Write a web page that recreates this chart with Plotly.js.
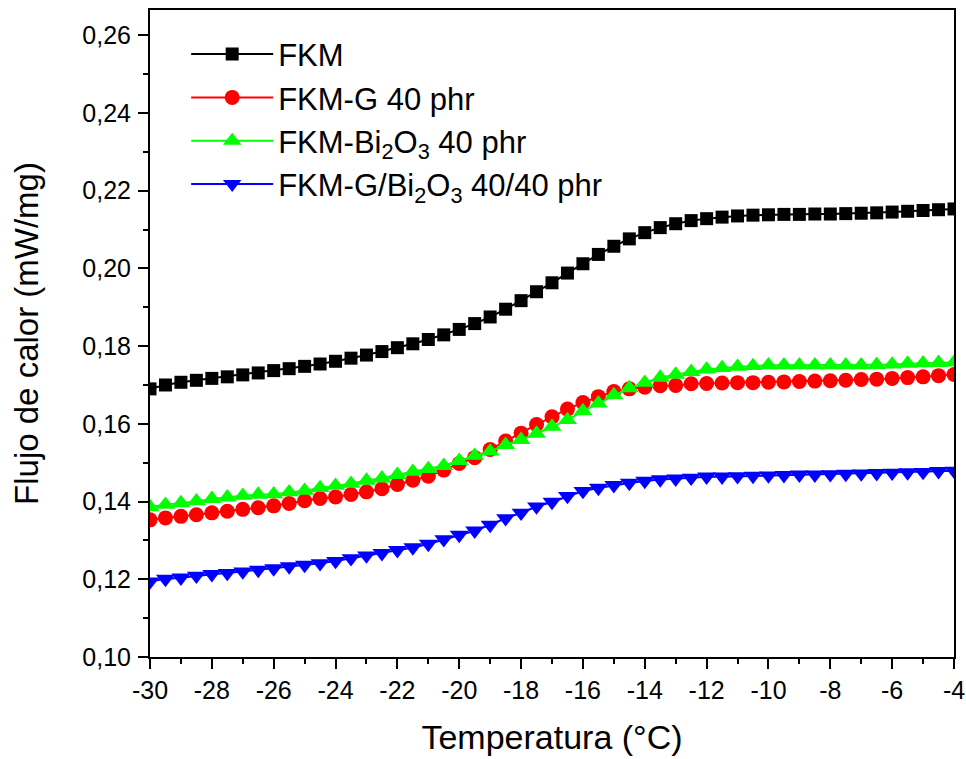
<!DOCTYPE html>
<html>
<head>
<meta charset="utf-8">
<script src="https://cdn.plot.ly/plotly-3.0.1.min.js"></script>
<style>html,body{margin:0;padding:0;background:#fff;}#chart{width:966px;height:759px;}</style>
</head>
<body>
<div id="chart"></div>
<script>
const temperature = [-30,-29.5,-29,-28.5,-28,-27.5,-27,-26.5,-26,-25.5,-25,-24.5,-24,-23.5,-23,-22.5,-22,-21.5,-21,-20.5,-20,-19.5,-19,-18.5,-18,-17.5,-17,-16.5,-16,-15.5,-15,-14.5,-14,-13.5,-13,-12.5,-12,-11.5,-11,-10.5,-10,-9.5,-9,-8.5,-8,-7.5,-7,-6.5,-6,-5.5,-5,-4.5,-4];

const fkm = [0.1690,0.1700,0.1707,0.1712,0.1717,0.1721,0.1726,0.1731,0.1737,0.1742,0.1748,0.1754,0.1761,0.1769,0.1777,0.1786,0.1796,0.1806,0.1817,0.1829,0.1843,0.1858,0.1875,0.1895,0.1917,0.1940,0.1963,0.1988,0.2012,0.2036,0.2057,0.2076,0.2092,0.2105,0.2115,0.2123,0.2128,0.2132,0.2135,0.2137,0.2138,0.2139,0.2139,0.2140,0.2140,0.2141,0.2142,0.2143,0.2145,0.2147,0.2149,0.2151,0.2153];

const fkmG = [0.1353,0.1358,0.1362,0.1366,0.1371,0.1375,0.1380,0.1384,0.1389,0.1395,0.1402,0.1408,0.1412,0.1418,0.1425,0.1433,0.1444,0.1455,0.1465,0.1481,0.1498,0.1513,0.1534,0.1556,0.1576,0.1598,0.1618,0.1638,0.1655,0.1670,0.1683,0.1690,0.1694,0.1698,0.1699,0.1703,0.1704,0.1705,0.1706,0.1706,0.1707,0.1708,0.1709,0.1710,0.1711,0.1712,0.1714,0.1715,0.1717,0.1719,0.1721,0.1724,0.1727];

const fkmBi = [0.1386,0.1392,0.1396,0.1401,0.1407,0.1411,0.1415,0.1418,0.1419,0.1424,0.1428,0.1435,0.1441,0.1446,0.1454,0.1460,0.1469,0.1477,0.1484,0.1492,0.1505,0.1518,0.1529,0.1546,0.1559,0.1575,0.1593,0.1610,0.1633,0.1653,0.1674,0.1692,0.1706,0.1719,0.1727,0.1734,0.1740,0.1744,0.1747,0.1749,0.1751,0.1751,0.1751,0.1751,0.1751,0.1751,0.1751,0.1752,0.1753,0.1755,0.1756,0.1757,0.1758];

const fkmGBi = [0.1194,0.1201,0.1204,0.1209,0.1213,0.1216,0.1220,0.1224,0.1228,0.1233,0.1237,0.1241,0.1247,0.1254,0.1261,0.1267,0.1275,0.1282,0.1291,0.1303,0.1314,0.1325,0.1340,0.1357,0.1371,0.1387,0.1399,0.1414,0.1427,0.1435,0.1442,0.1448,0.1453,0.1457,0.1459,0.1461,0.1464,0.1464,0.1465,0.1466,0.1467,0.1468,0.1469,0.1469,0.1470,0.1471,0.1472,0.1473,0.1474,0.1475,0.1476,0.1478,0.1479];

const xTickValues = [-30,-28,-26,-24,-22,-20,-18,-16,-14,-12,-10,-8,-6,-4];
const xTickLabels = ["-30","-28","-26","-24","-22","-20","-18","-16","-14","-12","-10","-8","-6","-4"];

const seriesNames = ["FKM", "FKM-G 40 phr", "FKM-Bi<sub>2</sub>O<sub>3</sub> 40 phr", "FKM-G/Bi<sub>2</sub>O<sub>3</sub> 40/40 phr"];
const seriesValues = [fkm, fkmG, fkmBi, fkmGBi];
const seriesColors = ["#000000", "#FF0000", "#00FF00", "#0000FF"];
const seriesSymbols = ["square", "circle", "triangle-up", "triangle-down"];
const seriesSizes = [13, 15, 16.5, 16.5];

const traces = seriesValues.map((vals, i) => ({
  x: temperature,
  y: vals,
  type: "scatter",
  mode: "lines+markers",
  name: seriesNames[i],
  legendgroup: "g" + i,
  line: {color: seriesColors[i], width: 2},
  marker: {color: seriesColors[i], symbol: seriesSymbols[i], size: seriesSizes[i], line: {width: 0}}
}));

const font = "Liberation Sans, Arial, sans-serif";
const layout = {
  width: 966, height: 759,
  paper_bgcolor: "#fff", plot_bgcolor: "#fff",
  separators: ",.",
  margin: {l: 150, r: 12, t: 10, b: 102, pad: 0},
  font: {family: font, color: "#000"},
  showlegend: true,
  legend: {
    x: 0.045, y: 0.973, xanchor: "left", yanchor: "top",
    bgcolor: "rgba(0,0,0,0)", borderwidth: 0,
    font: {family: font, size: 31, color: "#000"},
    tracegroupgap: 0, itemwidth: 82
  },
  xaxis: {
    range: [-30, -4],
    tickmode: "array", tickvals: xTickValues, ticktext: xTickLabels,
    ticklabeloverflow: "allow",
    showgrid: false, zeroline: false,
    showline: true, linecolor: "#000", linewidth: 2, mirror: true,
    ticks: "outside", ticklen: 10, tickwidth: 2, tickcolor: "#000",
    minor: {dtick: 1, tick0: -30, ticks: "outside", ticklen: 5, tickwidth: 2, tickcolor: "#000"},
    tickfont: {family: font, size: 25, color: "#000"},
    title: {text: "Temperatura (°C)", font: {family: font, size: 34, color: "#000"}, standoff: 22}
  },
  yaxis: {
    range: [0.10, 0.2665], dtick: 0.02, tick0: 0.10, tickformat: ".2f",
    showgrid: false, zeroline: false,
    showline: true, linecolor: "#000", linewidth: 2, mirror: true,
    ticks: "outside", ticklen: 10, tickwidth: 2, tickcolor: "#000",
    ticklabelstandoff: 2,
    minor: {dtick: 0.01, ticks: "outside", ticklen: 5, tickwidth: 2, tickcolor: "#000"},
    tickfont: {family: font, size: 25, color: "#000"},
    title: {text: "Flujo de calor (mW/mg)", font: {family: font, size: 33, color: "#000"}, standoff: 34}
  }
};

Plotly.newPlot("chart", traces, layout, {displayModeBar: false, staticPlot: true});
</script>
</body>
</html>
